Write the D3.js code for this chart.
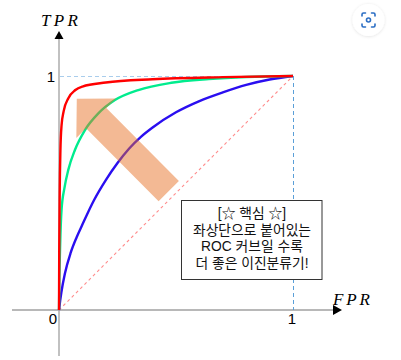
<!DOCTYPE html>
<html><head><meta charset="utf-8">
<script src="https://cdn.jsdelivr.net/npm/d3@7"></script>
<style>html,body{margin:0;padding:0;background:#fff;overflow:hidden}</style>
</head><body><svg id="c" width="401" height="360"></svg>
<script>
// ---- data ----
const ticks = [0, 1];
const tickLabels = ["0", "1"];
const axisLabels = ["FPR", "TPR"];
const redFPR   = [0, 0.001, 0.003, 0.006, 0.011, 0.02, 0.04, 0.07, 0.1, 0.2, 0.4, 0.7, 1];
const redTPR   = [0, 0.25, 0.5, 0.68, 0.79, 0.85, 0.905, 0.94, 0.955, 0.972, 0.986, 0.995, 1];
const greenFPR = [0, 0.002, 0.005, 0.011, 0.023, 0.04, 0.068, 0.111, 0.168, 0.239, 0.339, 0.48, 0.64, 0.8, 1];
const greenTPR = [0, 0.15, 0.28, 0.43, 0.52, 0.6, 0.684, 0.769, 0.84, 0.897, 0.94, 0.971, 0.987, 0.996, 1];
const blueFPR  = [0, 0.005, 0.01, 0.025, 0.05, 0.075, 0.1, 0.15, 0.2, 0.25, 0.3, 0.35, 0.4, 0.5, 0.6, 0.7, 0.8, 0.9, 1];
const blueTPR  = [0, 0.04, 0.075, 0.155, 0.245, 0.31, 0.365, 0.47, 0.555, 0.628, 0.69, 0.74, 0.78, 0.845, 0.893, 0.93, 0.962, 0.985, 1];
const randomFPR = [0, 1];
const randomTPR = [0, 1];
const noteLines = ["[☆ 핵심 ☆]", "좌상단으로 붙어있는", "ROC 커브일 수록", "더 좋은 이진분류기!"];
// arrow annotation in data units: tip and tail centre
const arrowTip = [0.076, 0.903];
const arrowTail = [0.469, 0.508];

const svg = d3.select("#c");
const x = d3.scaleLinear().domain([0, 1]).range([59, 293]);
const y = d3.scaleLinear().domain([0, 1]).range([310, 76]);
const zip = (a, b) => a.map((v, i) => [v, b[i]]);

// axes lines
svg.append("line").attr("x1", 12).attr("x2", 334).attr("y1", y(0)).attr("y2", y(0))
  .attr("stroke", "#a0a0a0").attr("stroke-width", 1.3);
svg.append("line").attr("x1", x(0)).attr("x2", x(0)).attr("y1", 356).attr("y2", 38)
  .attr("stroke", "#a0a0a0").attr("stroke-width", 1.3);
svg.append("path").attr("d", `M342,${y(0)} L333,${y(0)-5} L333,${y(0)+5} Z`).attr("fill", "#000");
svg.append("path").attr("d", `M${x(0)},31 L${x(0)-4.5},39 L${x(0)+4.5},39 Z`).attr("fill", "#000");

// guide dashes
svg.append("line").attr("x1", x(0)+1).attr("x2", x(1)).attr("y1", y(1)+0.5).attr("y2", y(1)+0.5)
  .attr("stroke", "#a9cdec").attr("stroke-width", 1).attr("stroke-dasharray", "4,3");
svg.append("line").attr("x1", x(1)+0.5).attr("x2", x(1)+0.5).attr("y1", y(1)).attr("y2", y(0))
  .attr("stroke", "#5a9fd8").attr("stroke-width", 1).attr("stroke-dasharray", "4,3");

// diagonal
const line = d3.line().x(d => x(d[0])).y(d => y(d[1]));
svg.append("path").attr("d", line(zip(randomFPR, randomTPR))).attr("fill", "none")
  .attr("stroke", "#ff8c8c").attr("stroke-width", 1.1).attr("stroke-dasharray", "3,3");

// tick labels
const tf = "'Liberation Sans', Arial, sans-serif";
svg.selectAll(".xt").data(ticks).enter().append("text")
  .attr("x", (d) => d === 0 ? x(d) - 6 : x(d) - 1).attr("y", 324).attr("text-anchor", "middle")
  .attr("font-family", tf).attr("font-size", 15).text((d, i) => tickLabels[i]);
svg.append("text").attr("x", 55).attr("y", y(1) + 5.5).attr("text-anchor", "end")
  .attr("font-family", tf).attr("font-size", 15).text(tickLabels[1]);

// axis labels
const mf = "'Liberation Serif', 'DejaVu Serif', serif";
svg.append("text").attr("x", 333).attr("y", 305).attr("font-family", mf).attr("font-style", "italic")
  .attr("font-size", 17).attr("textLength", 37).attr("lengthAdjust", "spacing").text(axisLabels[0]);
svg.append("text").attr("x", 41).attr("y", 26).attr("font-family", mf).attr("font-style", "italic")
  .attr("font-size", 17).attr("textLength", 37).attr("lengthAdjust", "spacing").text(axisLabels[1]);

// curves
const curve = d3.line().x(d => x(d[0])).y(d => y(d[1])).curve(d3.curveMonotoneX);
[[blueFPR, blueTPR, "#2a0ef0"], [greenFPR, greenTPR, "#00ec8e"], [redFPR, redTPR, "#ff0000"]]
  .forEach(([fx, ty, c]) => {
    svg.append("path").attr("d", curve(zip(fx, ty))).attr("fill", "none")
      .attr("stroke", c).attr("stroke-width", 2.4).attr("stroke-linejoin", "round");
  });

// arrow annotation
(function () {
  const tx = x(arrowTip[0]), ty = y(arrowTip[1]);
  const ex = x(arrowTail[0]), ey = y(arrowTail[1]);
  const L = Math.hypot(ex - tx, ey - ty);
  const ux = (ex - tx) / L, uy = (ey - ty) / L; // from tip to tail
  const px = -uy, py = ux;
  const headLen = 27.5, headHalf = 28, shaftHalf = 14.3;
  const bx = tx + ux * headLen, by = ty + uy * headLen;
  const pts = [
    [tx, ty],
    [bx + px * headHalf, by + py * headHalf],
    [bx + px * shaftHalf, by + py * shaftHalf],
    [ex + px * shaftHalf, ey + py * shaftHalf],
    [ex - px * shaftHalf, ey - py * shaftHalf],
    [bx - px * shaftHalf, by - py * shaftHalf],
    [bx - px * headHalf, by - py * headHalf]
  ];
  svg.append("path").attr("d", "M" + pts.map(p => p.join(",")).join("L") + "Z")
    .attr("fill", "#e66d1f").attr("fill-opacity", 0.48);
})();

// note box
svg.append("rect").attr("x", 181.5).attr("y", 200.5).attr("width", 140.5).attr("height", 79)
  .attr("fill", "#fff").attr("stroke", "#333").attr("stroke-width", 1);
const note = svg.append("text").attr("text-anchor", "middle")
  .attr("font-family", "'Liberation Sans', 'Noto Sans CJK KR', sans-serif").attr("font-size", 13.8).attr("fill", "#111");
note.selectAll("tspan").data(noteLines).enter().append("tspan")
  .attr("x", 252).attr("y", (d, i) => 218 + i * 16.6).text(d => d);

// lens-style icon at top right
const defs = svg.append("defs");
const f = defs.append("filter").attr("id", "sh").attr("x", "-50%").attr("y", "-50%").attr("width", "200%").attr("height", "200%");
f.append("feDropShadow").attr("dx", 0).attr("dy", 0.5).attr("stdDeviation", 1.5).attr("flood-color", "#000").attr("flood-opacity", 0.12);
svg.append("circle").attr("cx", 368.5).attr("cy", 20).attr("r", 16).attr("fill", "#fff").attr("filter", "url(#sh)");
const ic = svg.append("g").attr("fill", "none").attr("stroke", "#2a6dc4").attr("stroke-width", 1.6).attr("stroke-linecap", "round");
ic.append("path").attr("d", "M362,16 V14.5 Q362,13 363.5,13 H365.5 M371.5,13 H373.5 Q375,13 375,14.5 V16 M375,24 V25.5 Q375,27 373.5,27 H371.5 M365.5,27 H363.5 Q362,27 362,25.5 V24");
ic.append("circle").attr("cx", 368.5).attr("cy", 20).attr("r", 2);
</script></body></html>
